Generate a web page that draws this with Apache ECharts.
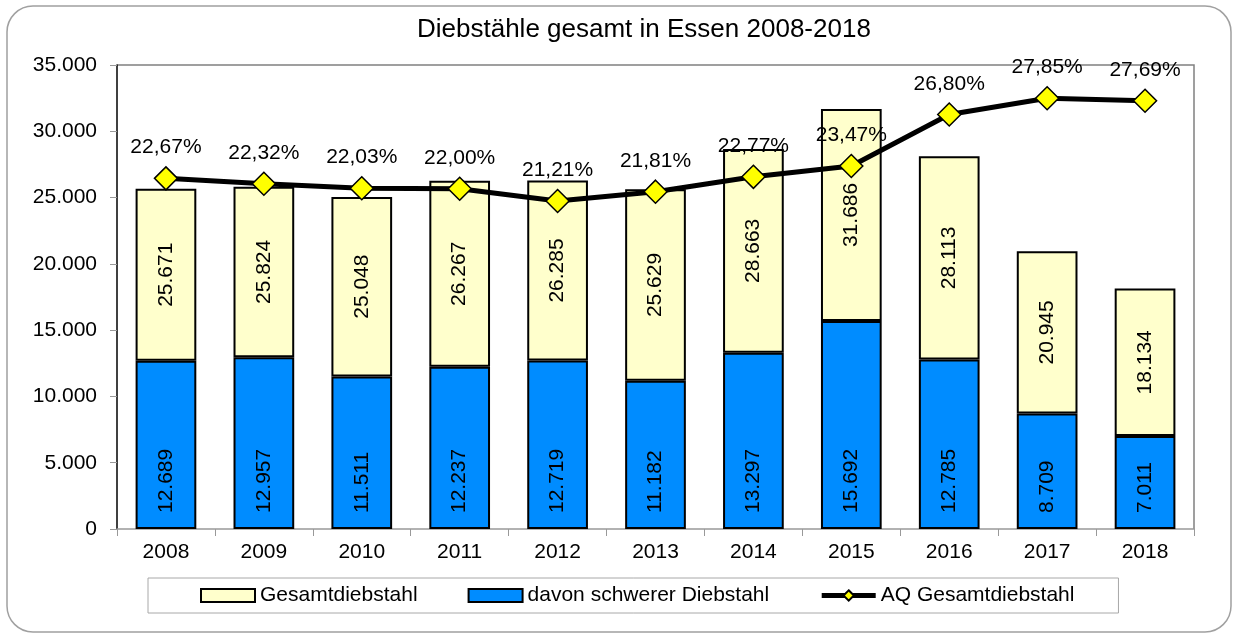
<!DOCTYPE html>
<html>
<head>
<meta charset="utf-8">
<title>Diebstähle gesamt in Essen 2008-2018</title>
<script src="https://cdn.jsdelivr.net/npm/echarts@6/dist/echarts.min.js"></script>
<style>
  html, body { margin: 0; padding: 0; background: #fff; }
  #chart { width: 1234px; height: 639px; }
</style>
</head>
<body>
<div id="chart"></div>
<script>
// Daten
var jahre = ['2008','2009','2010','2011','2012','2013','2014','2015','2016','2017','2018'];
var gesamt = [25671, 25824, 25048, 26267, 26285, 25629, 28663, 31686, 28113, 20945, 18134];
var schwer = [12689, 12957, 11511, 12237, 12719, 11182, 13297, 15692, 12785, 8709, 7011];
var aq = [22.67, 22.32, 22.03, 22.00, 21.21, 21.81, 22.77, 23.47, 26.80, 27.85, 27.69];

// Rest oberhalb des blauen Balkens (für die Stapelung)
var rest = gesamt.map(function (v, i) { return v - schwer[i]; });

function tausender(v) {
    return String(v).replace(/\B(?=(\d{3})+(?!\d))/g, '.');
}

var font = 'Liberation Sans, Arial, sans-serif';
var fs = 21;

var myChart = echarts.init(document.getElementById('chart'));
var option = {
    backgroundColor: '#fff',
    textStyle: { fontFamily: font },
    title: {
        text: 'Diebstähle gesamt in Essen 2008-2018',
        left: 412,
        top: 12,
        textStyle: { fontSize: 26, fontWeight: 'normal', color: '#000', fontFamily: font }
    },
    graphic: [{
        type: 'rect',
        shape: { x: 7, y: 6, width: 1224, height: 626, r: 26 },
        style: { fill: 'none', stroke: '#a0a0a0', lineWidth: 1.5 },
        silent: true,
        z: -10
    }, {
        // Rahmen der Zeichenfläche oben/rechts
        type: 'polyline',
        shape: { points: [[117, 65], [1194, 65], [1194, 529]] },
        style: { fill: 'none', stroke: '#808080', lineWidth: 1.5 },
        silent: true,
        z: -5
    }],
    legend: {
        data: [
            { name: 'Gesamtdiebstahl', icon: 'rect' },
            { name: 'davon schwerer Diebstahl', icon: 'rect' },
            { name: 'AQ Gesamtdiebstahl', lineStyle: { width: 5 } }
        ],
        left: 148,
        top: 578,
        padding: [7, 44, 7, 52],
        borderColor: '#a8a8a8',
        borderWidth: 1,
        itemWidth: 54,
        itemHeight: 13,
        itemGap: 50,
        textStyle: { fontSize: fs, color: '#000', fontFamily: font }
    },
    grid: { left: 117, right: 40, top: 65, bottom: 110 },
    xAxis: {
        type: 'category',
        data: jahre,
        axisLine: { lineStyle: { color: '#999', width: 1.5 } },
        axisTick: { show: true, length: 7, lineStyle: { color: '#999' } },
        axisLabel: { fontSize: fs, color: '#000', margin: 13, fontFamily: font }
    },
    yAxis: [{
        type: 'value',
        min: 0,
        max: 35000,
        interval: 5000,
        splitLine: { show: false },
        axisLine: { show: true, lineStyle: { color: '#000', width: 1.5 } },
        axisTick: { show: true, length: 7, lineStyle: { color: '#999' } },
        axisLabel: { fontSize: fs, color: '#000', margin: 20, fontFamily: font, formatter: tausender }
    }, {
        type: 'value',
        min: 0,
        max: 30,
        show: false,
        splitLine: { show: false }
    }],
    series: [{
        name: 'davon schwerer Diebstahl',
        type: 'bar',
        stack: 'gesamt',
        barWidth: '62%',
        data: schwer,
        itemStyle: { color: '#008CFF', borderColor: '#000', borderWidth: 2 },
        label: {
            show: true,
            position: 'insideBottom',
            distance: 16,
            rotate: 90,
            align: 'left',
            verticalAlign: 'middle',
            fontSize: fs,
            color: '#000',
            fontFamily: font,
            formatter: function (p) { return tausender(p.value); }
        }
    }, {
        name: 'Gesamtdiebstahl',
        type: 'bar',
        stack: 'gesamt',
        data: rest,
        itemStyle: { color: '#FFFFCC', borderColor: '#000', borderWidth: 2 },
        label: {
            show: true,
            position: 'inside',
            rotate: 90,
            fontSize: fs,
            color: '#000',
            fontFamily: font,
            formatter: function (p) { return tausender(gesamt[p.dataIndex]); }
        }
    }, {
        name: 'AQ Gesamtdiebstahl',
        type: 'line',
        yAxisIndex: 1,
        data: aq,
        z: 10,
        symbol: 'diamond',
        symbolSize: 23,
        lineStyle: { color: '#000', width: 5 },
        itemStyle: { color: '#FFFF00', borderColor: '#000', borderWidth: 1.5 },
        label: {
            show: true,
            position: 'top',
            distance: 8,
            fontSize: fs,
            color: '#000',
            fontFamily: font,
            formatter: function (p) { return p.value.toFixed(2).replace('.', ',') + '%'; }
        }
    }]
};
myChart.setOption(option);
</script>
</body>
</html>
